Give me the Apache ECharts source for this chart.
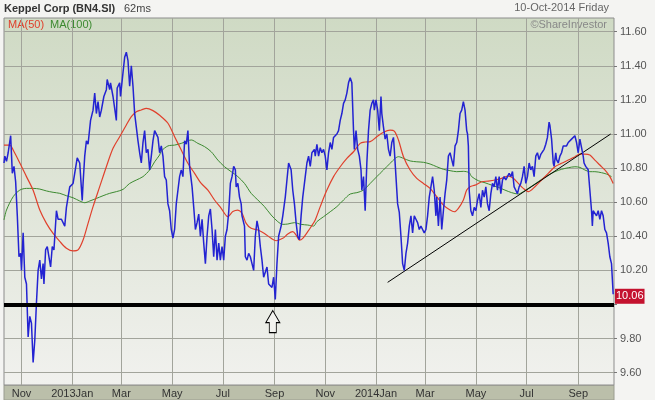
<!DOCTYPE html>
<html><head><meta charset="utf-8">
<script src="https://cdn.jsdelivr.net/npm/echarts@6/dist/echarts.min.js"></script>
<style>html,body{margin:0;padding:0;background:#f4f4f2;}#c{width:655px;height:400px;}</style>
</head><body><div id="c"></div>
<script>
// ---- data ----
const startDate = [2012, 9, 11];   // first calendar day on the axis (2012-10-11)
const dayCount = 734;              // calendar days shown
const monthNames = ['Jan','Feb','Mar','Apr','May','Jun','Jul','Aug','Sep','Oct','Nov','Dec'];

// closing price: day index (days since start) and value
const priceDay = [0,1,3,5,8,10,12,14,16,18,20,21,23,25,27,29,31,33,35,37,39,41,43,45,47,48,50,52,54,56,58,60,63,65,69,73,75,79,83,85,88,91,94,95,97,99,101,104,107,109,111,113,115,117,120,123,124,127,128,131,135,136,139,140,143,145,147,149,151,153,155,157,159,161,163,165,167,169,171,173,175,177,179,181,185,187,189,191,193,195,197,199,201,203,205,207,209,211,213,215,217,219,221,223,226,228,230,232,234,236,238,240,242,244,246,248,250,252,254,256,258,260,262,264,266,268,270,272,274,276,278,279,281,283,285,286,289,290,292,294,296,298,300,302,304,306,308,310,312,314,316,318,320,322,324,326,328,330,333,335,338,340,342,345,347,349,351,353,355,357,359,362,364,366,368,370,373,374,376,378,380,382,384,386,388,390,392,394,396,398,400,402,404,406,408,410,412,414,416,418,420,421,423,425,427,429,430,432,434,436,438,440,442,444,445,447,449,451,453,454,456,458,460,462,464,466,468,469,471,473,475,477,479,481,483,485,487,489,491,493,495,497,499,501,503,505,507,509,511,513,515,517,519,520,522,524,526,528,530,532,534,536,538,540,542,544,546,548,550,552,554,556,557,558,559,561,563,565,567,569,571,573,575,577,579,581,583,585,587,589,591,593,595,597,599,601,603,605,607,609,611,613,615,617,619,621,623,625,627,629,631,633,635,637,639,641,643,645,647,649,651,653,655,656,658,660,661,663,664,666,668,670,672,674,676,678,680,682,684,686,688,690,692,694,696,697,699,702,704,706,707,708,710,712,714,716,718,720,722,724,726,728,730,732];
const priceVal = [10.83,10.87,10.84,10.89,10.99,10.77,10.81,10.72,10.52,10.28,10.30,10.20,10.42,10.16,10.12,9.81,9.93,9.89,9.66,9.79,10.01,10.20,10.26,10.15,10.24,10.12,10.32,10.34,10.28,10.22,10.34,10.32,10.55,10.50,10.50,10.46,10.57,10.69,10.71,10.77,10.86,10.83,10.61,10.71,10.87,10.96,10.94,11.08,11.14,11.24,11.12,11.19,11.10,11.14,11.22,11.26,11.32,11.26,11.30,11.22,11.08,11.27,11.30,11.22,11.36,11.45,11.48,11.43,11.28,11.40,11.28,11.12,11.04,10.96,10.89,10.83,10.95,11.02,10.89,10.91,10.79,10.87,10.96,11.02,10.98,10.89,10.93,10.87,10.75,10.73,10.59,10.55,10.44,10.39,10.44,10.59,10.67,10.75,10.79,10.75,10.96,10.94,11.02,10.81,10.69,10.57,10.44,10.48,10.53,10.40,10.50,10.36,10.24,10.40,10.52,10.56,10.44,10.28,10.44,10.26,10.36,10.26,10.34,10.26,10.40,10.44,10.54,10.71,10.75,10.81,10.79,10.69,10.71,10.63,10.59,10.52,10.46,10.28,10.26,10.30,10.28,10.24,10.20,10.40,10.49,10.44,10.34,10.26,10.16,10.15,10.22,10.12,10.12,10.10,10.16,10.03,10.24,10.40,10.46,10.52,10.63,10.73,10.83,10.79,10.67,10.59,10.48,10.40,10.38,10.52,10.63,10.75,10.83,10.87,10.81,10.89,10.91,10.87,10.94,10.87,10.92,10.89,10.91,10.87,10.79,10.89,10.95,10.91,10.98,10.97,11.00,11.02,11.08,11.12,11.18,11.20,11.24,11.30,11.33,11.30,11.02,10.91,11.02,10.91,10.87,10.79,10.67,10.75,10.55,10.83,11.02,11.14,11.18,11.20,11.14,11.20,11.14,11.02,11.22,11.12,11.04,10.97,11.00,10.91,10.87,10.95,10.98,10.91,10.75,10.59,10.54,10.40,10.24,10.20,10.30,10.36,10.46,10.52,10.42,10.52,10.50,10.48,10.44,10.46,10.44,10.42,10.44,10.52,10.63,10.69,10.75,10.67,10.52,10.63,10.46,10.63,10.44,10.55,10.65,10.73,10.87,10.89,10.85,10.81,10.93,10.95,11.02,11.12,11.14,11.19,11.14,11.02,11.00,10.93,10.67,10.55,10.52,10.57,10.55,10.61,10.65,10.57,10.67,10.63,10.69,10.59,10.55,10.65,10.71,10.69,10.75,10.67,10.75,10.65,10.73,10.75,10.73,10.75,10.77,10.75,10.78,10.69,10.67,10.65,10.69,10.71,10.75,10.81,10.71,10.75,10.83,10.79,10.81,10.75,10.87,10.89,10.85,10.88,10.89,10.91,10.94,10.98,11.07,11.05,10.97,10.83,10.81,10.89,10.85,10.83,10.87,10.89,10.93,10.94,10.93,10.95,10.94,10.97,10.98,10.99,10.95,10.89,10.97,10.98,10.87,10.83,10.81,10.79,10.67,10.55,10.46,10.55,10.54,10.52,10.55,10.50,10.55,10.52,10.44,10.42,10.36,10.28,10.24,10.06];

// MA(50)
const ma50Day = [0,7,11,19,27,35,43,51,59,67,75,83,89,95,101,107,115,123,131,139,147,153,159,165,171,179,187,197,205,213,221,229,237,245,253,261,269,275,281,286,291,297,305,313,321,327,335,341,347,351,355,359,365,369,374,380,388,396,404,412,420,428,434,440,448,456,464,469,474,480,488,496,504,512,520,528,536,541,546,552,556,560,566,574,582,590,598,606,612,618,624,630,638,646,654,662,670,678,686,692,698,704,710,716,722,728,732];
const ma50Val = [10.935,10.935,10.906,10.83,10.75,10.67,10.554,10.476,10.417,10.37,10.33,10.314,10.32,10.378,10.476,10.574,10.691,10.808,10.916,10.984,11.053,11.102,11.131,11.141,11.15,11.137,11.11,11.063,10.984,10.906,10.828,10.769,10.71,10.671,10.613,10.564,10.515,10.545,10.554,10.535,10.476,10.447,10.437,10.417,10.388,10.374,10.388,10.413,10.427,10.407,10.378,10.388,10.427,10.456,10.496,10.574,10.671,10.75,10.808,10.857,10.896,10.945,10.953,10.955,10.984,11.01,11.023,11.017,10.965,10.867,10.789,10.74,10.71,10.681,10.632,10.583,10.554,10.544,10.564,10.613,10.671,10.691,10.70,10.72,10.724,10.73,10.74,10.753,10.74,10.71,10.681,10.662,10.691,10.73,10.769,10.808,10.828,10.847,10.867,10.882,10.882,10.877,10.847,10.818,10.789,10.75,10.71];

// MA(100)
const ma100Day = [0,3,11,19,27,35,43,51,59,67,75,83,91,97,103,111,119,127,135,143,151,159,167,175,181,187,189,197,205,213,221,225,233,241,249,257,265,273,281,289,297,305,313,321,329,335,341,349,357,365,372,376,384,392,400,408,416,424,432,440,448,456,464,470,474,480,488,496,504,512,520,528,536,544,552,559,562,570,578,586,594,602,610,618,624,630,638,646,654,662,670,678,686,692,698,704,710,718,724,730];
const ma100Val = [10.496,10.554,10.632,10.671,10.681,10.681,10.677,10.666,10.658,10.652,10.638,10.626,10.607,10.597,10.607,10.622,10.638,10.652,10.662,10.675,10.71,10.73,10.75,10.789,10.837,10.877,10.90,10.93,10.935,10.945,10.96,10.965,10.945,10.926,10.896,10.847,10.808,10.779,10.75,10.71,10.652,10.613,10.574,10.525,10.486,10.47,10.472,10.48,10.47,10.466,10.46,10.486,10.515,10.544,10.574,10.613,10.648,10.656,10.671,10.71,10.75,10.789,10.828,10.857,10.867,10.857,10.842,10.837,10.834,10.824,10.808,10.793,10.785,10.779,10.781,10.773,10.75,10.726,10.714,10.70,10.687,10.671,10.656,10.648,10.662,10.681,10.707,10.734,10.759,10.779,10.793,10.802,10.808,10.804,10.789,10.779,10.779,10.773,10.765,10.75];

// hand-drawn trend line
const trendDay = [461, 729];
const trendVal = [10.13, 11.0];

const supportLevel = 10.0;
const lastPrice = 10.06;
const arrowPoint = [323, 9.90];
const yMin = 9.6, yMax = 11.6, yStep = 0.2;

// ---- build ----
const categories = [];
const t0 = Date.UTC(startDate[0], startDate[1], startDate[2]);
for (let i = 0; i < dayCount; i++) categories.push(new Date(t0 + i * 86400000).toISOString().slice(0, 10));
const pairs = (d, v) => d.map((x, i) => [x, v[i]]);
const isTick = (idx, v) => v.slice(8) === '01' && (+v.slice(5, 7)) % 2 === 1;
const FONT = '"Liberation Sans", Arial, sans-serif';

const chart = echarts.init(document.getElementById('c'));
chart.setOption({
  animation: false,
  backgroundColor: '#f4f4f2',
  textStyle: { fontFamily: FONT },
  grid: [
    { left: 4, right: 41, top: 18, bottom: 15, show: true,
      backgroundColor: { type: 'linear', x: 0, y: 0, x2: 0, y2: 1,
        colorStops: [{ offset: 0, color: '#cfdac4' }, { offset: 1, color: '#f1f1ee' }] },
      borderColor: '#8c8c8c', borderWidth: 1 },
    { left: 4, right: 41, top: 31.7, bottom: 27.3 }
  ],
  xAxis: [
    { gridIndex: 0, type: 'category', data: categories, boundaryGap: false,
      axisLine: { show: false }, axisTick: { show: false },
      axisLabel: { interval: isTick, color: '#333', fontSize: 11, margin: 3,
        formatter: v => { const m = +v.slice(5, 7); return m === 1 ? v.slice(0, 4) + 'Jan' : monthNames[m - 1]; } },
      splitLine: { show: true, interval: isTick, lineStyle: { color: '#a2a49b', width: 1 } } },
    { gridIndex: 1, type: 'category', data: categories, boundaryGap: false, show: false }
  ],
  yAxis: [
    { gridIndex: 0, type: 'value', show: false },
    { gridIndex: 1, type: 'value', position: 'right', min: yMin, max: yMax, interval: yStep,
      axisLine: { show: false },
      axisTick: { show: true, length: 3, lineStyle: { color: '#777' } },
      // the 10.00 label sits under the last-price tag in the original
      axisLabel: { formatter: v => (Math.abs(v - supportLevel) < 1e-6 ? '' : v.toFixed(2)), color: '#555', fontSize: 11, margin: 6 },
      splitLine: { show: true, lineStyle: { color: '#a2a49b', width: 1 } } }
  ],
  graphic: [
    { type: 'rect', z: -10, shape: { x: 4, y: 385, width: 610, height: 15 },
      style: { fill: '#bbbfaa', stroke: '#9a9c90', lineWidth: 1 } },
    { type: 'text', left: 4, top: 3, style: { text: 'Keppel Corp (BN4.SI)', font: 'bold 11px ' + FONT, fill: '#333' } },
    { type: 'text', left: 124, top: 3, style: { text: '62ms', font: '11px ' + FONT, fill: '#444' } },
    { type: 'text', right: 46, top: 2, style: { text: '10-Oct-2014 Friday', font: '11px ' + FONT, fill: '#666' } },
    { type: 'text', right: 48, top: 19, style: { text: '©ShareInvestor', font: '11px ' + FONT, fill: '#888' } },
    { type: 'text', left: 8, top: 19, style: { text: 'MA(50)', font: '11px ' + FONT, fill: '#e0402c' } },
    { type: 'text', left: 50, top: 19, style: { text: 'MA(100)', font: '11px ' + FONT, fill: '#3c8a30' } }
  ],
  series: [
    { name: 'MA(100)', type: 'line', xAxisIndex: 1, yAxisIndex: 1, data: pairs(ma100Day, ma100Val),
      showSymbol: false, smooth: 0.3, lineStyle: { color: '#3c8a30', width: 1 }, z: 2 },
    { name: 'MA(50)', type: 'line', xAxisIndex: 1, yAxisIndex: 1, data: pairs(ma50Day, ma50Val),
      showSymbol: false, smooth: 0.3, lineStyle: { color: '#e0402c', width: 1.2 }, z: 3 },
    { name: 'Trend', type: 'line', xAxisIndex: 1, yAxisIndex: 1, data: pairs(trendDay, trendVal),
      showSymbol: false, lineStyle: { color: '#000', width: 1 }, z: 3 },
    { name: 'Price', type: 'line', xAxisIndex: 1, yAxisIndex: 1, data: pairs(priceDay, priceVal),
      showSymbol: false, lineStyle: { color: '#2323d2', width: 1.5 }, z: 4,
      markLine: { silent: true, symbol: ['none', 'none'], animation: false,
        data: [
          { yAxis: supportLevel, lineStyle: { color: '#000', width: 4, type: 'solid' }, label: { show: false } },
          { yAxis: lastPrice, lineStyle: { color: 'rgba(0,0,0,0)', width: 1 },
            label: { show: true, position: 'end', distance: 1, offset: [0, 2], formatter: lastPrice.toFixed(2),
              color: '#fff', fontSize: 11, backgroundColor: '#c4122f', padding: [2, 1, 2, 1] } }
        ] },
      markPoint: { silent: true, animation: false,
        data: [{ coord: arrowPoint,
          symbol: 'path://M7,0L14,12L10.5,12L10.5,22L3.5,22L3.5,12L0,12Z',
          symbolSize: [14, 22],
          itemStyle: { color: '#f3f3ef', borderColor: '#000', borderWidth: 1 },
          label: { show: false } }] } }
  ]
});
</script></body></html>
